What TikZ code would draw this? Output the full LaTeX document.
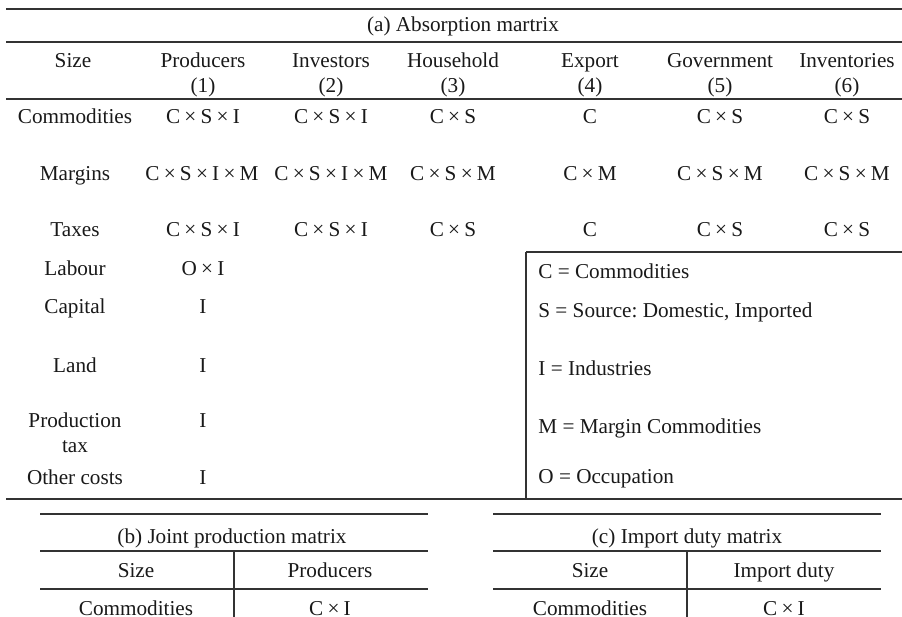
\documentclass[tikz,border=0pt]{standalone}
\usepackage{fontspec}
\setmainfont{Liberation Serif}
\usepackage{tikz}
\usetikzlibrary{positioning}
\newcommand{\bytimes}{\hspace{0.2em}×\hspace{0.2em}}
\frenchspacing

\begin{document}
\begin{tikzpicture}[x=0.5pt, y=-0.5pt,
    rule/.style={line width=0.65pt, black!80},
    cell/.style={anchor=base, inner sep=0pt, text=black!90, font=\fontsize{10.6}{12}\selectfont},
    keytext/.style={cell, anchor=base west}]
         \useasboundingbox (0,0) rectangle (902,617);
         % corners of the three tables
         \coordinate (aTL) at (6, 9);
         \coordinate (aTR) at (902, 9);
         \coordinate (keyTL) at (526, 252);
         \coordinate (keyBL) at (526, 499);
         \coordinate (bTL) at (40, 514);
         \coordinate (cTL) at (493, 514);

         % (a) rules
         \draw[rule] (aTL) -- (aTR);
         \draw[rule] (6,42) -- (902,42);
         \draw[rule] (6,99) -- (902,99);
         \draw[rule] (6,499) -- (902,499);
         \draw[rule] (keyTL) -- (902,252);
         \draw[rule] (keyTL) -- (keyBL);

         % (a) title and headings
         \node[cell] (aTitle) at (463,31) {(a) Absorption martrix};
         \node[cell] (hSize) at (73,67) {Size};
         \node[cell] (hProd) at (203,67) {Producers};
         \node[cell] (hProdN) at (203,92) {(1)};
         \node[cell] (hInv) at (331,67) {Investors};
         \node[cell] (hInvN) at (331,92) {(2)};
         \node[cell] (hHou) at (453,67) {Household};
         \node[cell] (hHouN) at (453,92) {(3)};
         \node[cell] (hExp) at (590,67) {Export};
         \node[cell] (hExpN) at (590,92) {(4)};
         \node[cell] (hGov) at (720,67) {Government};
         \node[cell] (hGovN) at (720,92) {(5)};
         \node[cell] (hInt) at (847,67) {Inventories};
         \node[cell] (hIntN) at (847,92) {(6)};

         % (a) commodities, margins, taxes
         \node[cell] (rCom) at (75,123) {Commodities};
         \node[cell] (com1) at (203,123) {C\bytimes S\bytimes I};
         \node[cell] (com2) at (331,123) {C\bytimes S\bytimes I};
         \node[cell] (com3) at (453,123) {C\bytimes S};
         \node[cell] (com4) at (590,123) {C};
         \node[cell] (com5) at (720,123) {C\bytimes S};
         \node[cell] (com6) at (847,123) {C\bytimes S};

         \node[cell] (rMar) at (75,180) {Margins};
         \node[cell] (mar1) at (202,180) {C\bytimes S\bytimes I\bytimes M};
         \node[cell] (mar2) at (331,180) {C\bytimes S\bytimes I\bytimes M};
         \node[cell] (mar3) at (453,180) {C\bytimes S\bytimes M};
         \node[cell] (mar4) at (590,180) {C\bytimes M};
         \node[cell] (mar5) at (720,180) {C\bytimes S\bytimes M};
         \node[cell] (mar6) at (847,180) {C\bytimes S\bytimes M};

         \node[cell] (rTax) at (75,236) {Taxes};
         \node[cell] (tax1) at (203,236) {C\bytimes S\bytimes I};
         \node[cell] (tax2) at (331,236) {C\bytimes S\bytimes I};
         \node[cell] (tax3) at (453,236) {C\bytimes S};
         \node[cell] (tax4) at (590,236) {C};
         \node[cell] (tax5) at (720,236) {C\bytimes S};
         \node[cell] (tax6) at (847,236) {C\bytimes S};

         % (a) primary factors
         \node[cell] (rLab) at (75,275) {Labour};
         \node[cell] (lab1) at (203,275) {O\bytimes I};
         \node[cell] (rCap) at (75,313) {Capital};
         \node[cell] (cap1) at (203,313) {I};
         \node[cell] (rLand) at (75,372) {Land};
         \node[cell] (land1) at (203,372) {I};
         \node[cell] (rPtx) at (75,427) {Production};
         \node[cell] (rPtxB) at (75,452) {tax};
         \node[cell] (ptx1) at (203,427) {I};
         \node[cell] (rOth) at (75,484) {Other costs};
         \node[cell] (oth1) at (203,484) {I};

         % key
         \node[keytext] (kC) at (538,278) {C = Commodities};
         \node[keytext] (kS) at (538,317) {S = Source: Domestic, Imported};
         \node[keytext] (kI) at (538,375) {I = Industries};
         \node[keytext] (kM) at (538,433) {M = Margin Commodities};
         \node[keytext] (kO) at (538,483) {O = Occupation};

         % (b) joint production
         \draw[rule] (bTL) -- (428,514);
         \draw[rule] (40,551) -- (428,551);
         \draw[rule] (40,589) -- (428,589);
         \draw[rule] (234,551) -- (234,617);
         \node[cell] (bTitle) at (232,543) {(b) Joint production matrix};
         \node[cell] (bSize) at (136,577) {Size};
         \node[cell] (bProd) at (330,577) {Producers};
         \node[cell] (bCom) at (136,615) {Commodities};
         \node[cell] (bVal) at (330,615) {C\bytimes I};

         % (c) import duty
         \draw[rule] (cTL) -- (881,514);
         \draw[rule] (493,551) -- (881,551);
         \draw[rule] (493,589) -- (881,589);
         \draw[rule] (687,551) -- (687,617);
         \node[cell] (cTitle) at (687,543) {(c) Import duty matrix};
         \node[cell] (cSize) at (590,577) {Size};
         \node[cell] (cDuty) at (784,577) {Import duty};
         \node[cell] (cCom) at (590,615) {Commodities};
         \node[cell] (cVal) at (784,615) {C\bytimes I};
      \end{tikzpicture}
\end{document}
